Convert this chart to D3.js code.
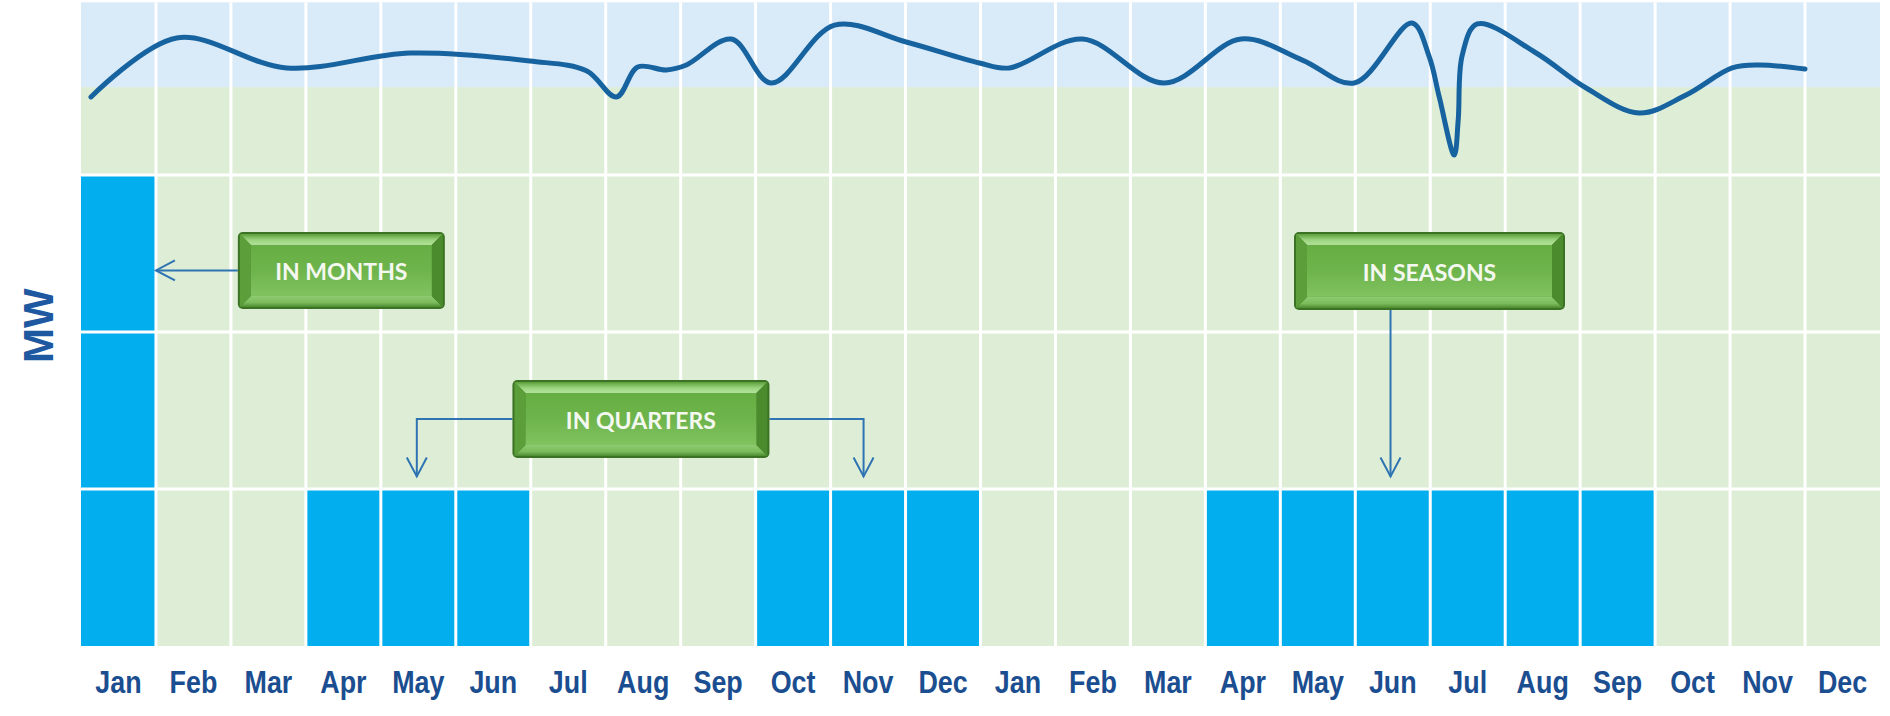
<!DOCTYPE html>
<html>
<head>
<meta charset="utf-8">
<script src="https://cdn.jsdelivr.net/npm/d3@7"></script>
<style>
html,body{margin:0;padding:0;background:#ffffff;}
svg{display:block;}
</style>
</head>
<body>
<svg id="chart" width="1890" height="716"></svg>
<script>
// ---------- data ----------
const months = ["Jan","Feb","Mar","Apr","May","Jun","Jul","Aug","Sep","Oct","Nov","Dec",
                "Jan","Feb","Mar","Apr","May","Jun","Jul","Aug","Sep","Oct","Nov","Dec"];
const contractedMW = [3,0,0,1,1,1,0,0,0,1,1,1, 0,0,0,1,1,1,1,1,1,0,0,0];
const gridMW = [1,2,3];
const loadBandMW = [3.56, 4.1];
// consumption curve: position along the months axis and MW value
const curveMonth = [0.133,1.276,2.743,4.387,5.987,6.743,7.143,7.427,7.809,8.076,8.676,9.209,10.053,11.009,
                    11.987,12.387,13.36,14.453,15.476,16.293,16.987,17.756,17.987,18.12,18.32,18.373,18.427,
                    18.627,19.413,20.08,20.787,21.413,22.027,22.387,23.0];
const curveMW = [3.497,3.873,3.682,3.777,3.726,3.664,3.497,3.688,3.669,3.701,3.866,3.586,3.955,3.847,
                 3.713,3.682,3.866,3.586,3.866,3.732,3.586,3.968,3.752,3.497,3.127,3.35,3.764,
                 3.962,3.777,3.554,3.395,3.51,3.682,3.701,3.675];
const annotationText = ["IN MONTHS","IN QUARTERS","IN SEASONS"];
const annotationAt = [[3.473,2.392],[7.47,1.446],[17.99,2.389]];      // box centres (month, MW)
const annotationTargets = [[[1.0,2.392]], [[4.48,1.08],[10.44,1.08]], [[17.47,1.08]]];

// ---------- layout ----------
const W = 1890, H = 716;
const left = 81, right = 1880, bottom = 646;
const unit = 157;
const yMax = 4.1;

const svg = d3.select("#chart");
const x = d3.scaleLinear().domain([0, months.length]).range([left, right]);
const xb = d3.scaleBand().domain(d3.range(months.length)).range([left, right]).padding(0);
const y = d3.scaleLinear().domain([0, yMax]).range([bottom, bottom - unit * yMax]);

const defs = svg.append("defs");
function grad(id, stops) {
  const g = defs.append("linearGradient").attr("id", id).attr("x1",0).attr("y1",0).attr("x2",0).attr("y2",1);
  stops.forEach(s => g.append("stop").attr("offset", s[0]).attr("stop-color", s[1]));
}
grad("face", [[0,"#66AE43"],[0.5,"#6EB44C"],[1,"#80C360"]]);
grad("bevTop", [[0,"#5C9D3B"],[0.55,"#9BD57F"],[1,"#B3E19B"]]);
grad("bevBot", [[0,"#8FCB72"],[0.6,"#7BBB5B"],[1,"#4D8A31"]]);

// background
svg.append("rect").attr("x", left).attr("y", y(loadBandMW[0]))
  .attr("width", right - left).attr("height", y(0) - y(loadBandMW[0])).attr("fill", "#DEEED6");
svg.append("rect").attr("x", left).attr("y", y(loadBandMW[1]))
  .attr("width", right - left).attr("height", y(loadBandMW[0]) - y(loadBandMW[1])).attr("fill", "#D9EAF9");

// bars
svg.append("g").selectAll("rect").data(contractedMW).join("rect")
  .attr("x", (d,i) => xb(i)).attr("width", xb.bandwidth())
  .attr("y", d => y(d)).attr("height", d => y(0) - y(d))
  .attr("fill", "#03AEEF");

// grid
const grid = svg.append("g").attr("stroke", "#ffffff").attr("stroke-width", 3);
grid.selectAll("line.v").data(d3.range(1, months.length)).join("line").attr("class","v")
  .attr("x1", d => x(d)).attr("x2", d => x(d)).attr("y1", y(yMax)).attr("y2", y(0));
grid.selectAll("line.h").data(gridMW).join("line").attr("class","h")
  .attr("x1", left).attr("x2", right).attr("y1", d => y(d)).attr("y2", d => y(d));

// curve
const pts = curveMonth.map((m,i) => [m, curveMW[i]]);
svg.append("path").datum(pts)
  .attr("fill","none").attr("stroke","#17639F").attr("stroke-width",5)
  .attr("stroke-linecap","round").attr("stroke-linejoin","round")
  .attr("d", d3.line().x(d => x(d[0])).y(d => y(d[1])).curve(d3.curveCatmullRom.alpha(0.5)));

// x axis
const xAxis = svg.append("g").attr("transform", `translate(0,${bottom})`)
  .call(d3.axisBottom(xb).tickFormat(i => months[i]).tickSize(0).tickPadding(0));
xAxis.select(".domain").remove();
xAxis.selectAll("text")
  .attr("y", 0).attr("dy", 0)
  .attr("font-family", "'Liberation Sans', Arial, sans-serif")
  .attr("font-weight", "bold").attr("font-size", 32).attr("fill", "#1B4E90")
  .attr("transform", "translate(0,47) scale(0.84,1)");

// y title
svg.append("text").attr("transform", `translate(${left - 43},${y(2.04)}) rotate(-90)`)
  .attr("text-anchor","middle").attr("dominant-baseline","central")
  .attr("font-family","'Liberation Sans', Arial, sans-serif").attr("font-weight","bold")
  .attr("font-size", 42).attr("fill", "#1D58A0").text("MW");

// annotations
const boxSize = [[207,77],[257,78],[271,78]];
const ann = svg.append("g");
const arrowColor = "#2E73B2";
function chevron(g, tx, ty, dir) {
  const a = 19, b = 10;
  let p;
  if (dir === "left") p = [[tx + a, ty - b],[tx, ty],[tx + a, ty + b]];
  else p = [[tx - b, ty - a],[tx, ty],[tx + b, ty - a]];
  g.append("path").attr("d", d3.line()(p)).attr("fill","none")
    .attr("stroke", arrowColor).attr("stroke-width", 2);
}
annotationText.forEach((t, i) => {
  const [w, h] = boxSize[i];
  const cx = x(annotationAt[i][0]), cy = y(annotationAt[i][1]);
  const bx = cx - w/2, by = cy - h/2;
  const g = ann.append("g");
  // connectors
  annotationTargets[i].forEach(tg => {
    const tx = x(tg[0]), ty = y(tg[1]);
    let path, dir;
    if (Math.abs(ty - cy) < 2) { path = [[bx, cy],[tx, cy]]; dir = "left"; }
    else if (tx < bx) { path = [[bx, cy],[tx, cy],[tx, ty]]; dir = "down"; }
    else if (tx > bx + w) { path = [[bx + w, cy],[tx, cy],[tx, ty]]; dir = "down"; }
    else { path = [[tx, by + h],[tx, ty]]; dir = "down"; }
    g.append("path").attr("d", d3.line()(path)).attr("fill","none")
      .attr("stroke", arrowColor).attr("stroke-width", 2);
    chevron(g, tx, ty, dir);
  });
  // bevel button
  const bv = 11;
  g.append("rect").attr("x", bx).attr("y", by).attr("width", w).attr("height", h)
    .attr("rx", 5).attr("fill", "#3B7224");
  const x0 = bx + 2, y0 = by + 2, x1 = bx + w - 2, y1 = by + h - 2;
  const poly = (p, f) => g.append("path").attr("d", d3.line()(p) + "Z").attr("fill", f);
  poly([[x0,y0],[x1,y0],[x1-bv,y0+bv],[x0+bv,y0+bv]], "url(#bevTop)");
  poly([[x0,y1],[x1,y1],[x1-bv,y1-bv],[x0+bv,y1-bv]], "url(#bevBot)");
  poly([[x0,y0],[x0+bv,y0+bv],[x0+bv,y1-bv],[x0,y1]], "#5B9E3A");
  poly([[x1,y0],[x1-bv,y0+bv],[x1-bv,y1-bv],[x1,y1]], "#4B8B2E");
  g.append("rect").attr("x", x0+bv).attr("y", y0+bv).attr("width", x1-x0-2*bv).attr("height", y1-y0-2*bv)
    .attr("fill", "url(#face)");
  g.append("text").attr("x", cx).attr("y", cy + 1).attr("text-anchor","middle").attr("dominant-baseline","central")
    .attr("font-family","Lato, 'Open Sans', sans-serif").attr("font-weight","bold")
    .attr("font-size", 23).attr("fill","#F4F8F0").text(t);
});
</script>
</body>
</html>
